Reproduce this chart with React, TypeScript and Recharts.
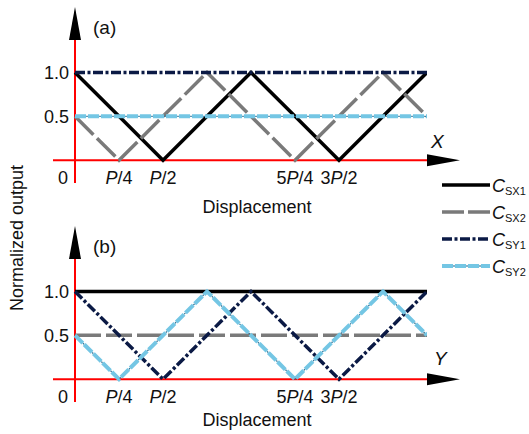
import { LineChart, Line, XAxis, YAxis, ReferenceLine, ReferenceDot } from 'recharts';

// displacement in units of the period P
const positions = [0, 0.25, 0.5, 0.75, 1, 1.25, 1.5, 1.75, 2];

// panel (a): X-direction sensors modulate, Y-direction sensors flat
const aSX1 = [1, 0.5, 0, 0.5, 1, 0.5, 0, 0.5, 1];
const aSX2 = [0.5, 0, 0.5, 1, 0.5, 0, 0.5, 1, 0.5];
const aSY1 = [1, 1, 1, 1, 1, 1, 1, 1, 1];
const aSY2 = [0.5, 0.5, 0.5, 0.5, 0.5, 0.5, 0.5, 0.5, 0.5];

// panel (b): Y-direction sensors modulate, X-direction sensors flat
const bSX1 = [1, 1, 1, 1, 1, 1, 1, 1, 1];
const bSX2 = [0.5, 0.5, 0.5, 0.5, 0.5, 0.5, 0.5, 0.5, 0.5];
const bSY1 = [1, 0.5, 0, 0.5, 1, 0.5, 0, 0.5, 1];
const bSY2 = [0.5, 0, 0.5, 1, 0.5, 0, 0.5, 1, 0.5];

const xTicks = [0, 0.25, 0.5, 1.25, 1.5];
const xTickLabels = ['0', 'P/4', 'P/2', '5P/4', '3P/2'];
const yTicks = [0.5, 1];
const yTickLabels = ['0.5', '1.0'];

const seriesNames = ['sx1', 'sx2', 'sy1', 'sy2'];
const seriesSubs = ['SX1', 'SX2', 'SY1', 'SY2'];

const FONT = '"Liberation Sans", Arial, sans-serif';
const RED = '#ff0000';

const styles: Record<string, { stroke: string; width: number; dash?: string }> = {
  sx1: { stroke: '#000000', width: 3.5 },
  sx2: { stroke: '#7a7a7a', width: 3.5, dash: '26 5' },
  sy1: { stroke: '#0b1a45', width: 3.5, dash: '10 2.5 3 2.5' },
  sy2: { stroke: '#74c6e4', width: 4, dash: '11 2' },
};
// thin darker dots sitting in the gaps of the light blue dashes
const sy2Dots = { stroke: '#2f7397', width: 1.3, dash: '1.5 11.5', offset: 1.75 };

const Y_DOMAIN: [number, number] = [-0.26, 1.37];
const X_DOMAIN: [number, number] = [-0.125, 2];

function buildRows(s1: number[], s2: number[], s3: number[], s4: number[]) {
  return positions.map((x, i) => ({ x, sx1: s1[i], sx2: s2[i], sy1: s3[i], sy2: s4[i] }));
}

function PLabel({ text }: { text: string }) {
  // italic P inside tick labels
  const parts = text.split('P');
  if (parts.length === 1) return <>{text}</>;
  return (
    <>
      {parts[0]}
      <tspan fontStyle="italic">P</tspan>
      {parts[1]}
    </>
  );
}

const XTick = (props: any) => {
  const { x, y, payload } = props;
  const i = xTicks.indexOf(payload.value);
  const label = xTickLabels[i] ?? '';
  const shift = payload.value === 0 ? -12 : 0;
  return (
    <text x={x + shift} y={y + 1} textAnchor="middle" fontSize={18} fontFamily={FONT} fill="#111">
      <PLabel text={label} />
    </text>
  );
};

const YTick = (props: any) => {
  const { x, y, payload } = props;
  const i = yTicks.indexOf(payload.value);
  return (
    <text x={x + 16} y={y + 6.5} textAnchor="end" fontSize={18} fontFamily={FONT} fill="#111">
      {yTickLabels[i]}
    </text>
  );
};

const UpArrow = (p: any) => (
  <polygon points={`${p.cx - 6},${p.cy} ${p.cx + 6},${p.cy} ${p.cx},${p.cy - 33}`} fill="#000" />
);
const RightArrow = (p: any) => (
  <polygon points={`${p.cx},${p.cy - 6} ${p.cx},${p.cy + 6} ${p.cx + 33},${p.cy}`} fill="#000" />
);

function Panel({ rows, top }: { rows: any[]; top: number }) {
  return (
    <div style={{ position: 'absolute', left: 0, top, width: 529, height: 220 }}>
      <LineChart width={529} height={220} data={rows} margin={{ top: 40, right: 102, bottom: 0, left: 0 }}>
        <XAxis
          dataKey="x"
          type="number"
          domain={X_DOMAIN}
          allowDataOverflow
          ticks={xTicks}
          interval={0}
          axisLine={false}
          tickLine={false}
          tickSize={0}
          tickMargin={0}
          height={37}
          tick={(p: any) => <XTick {...p} />}
        />
        <YAxis
          type="number"
          domain={Y_DOMAIN}
          allowDataOverflow
          ticks={yTicks}
          interval={0}
          axisLine={false}
          tickLine={false}
          tickSize={0}
          tickMargin={0}
          width={53}
          tick={(p: any) => <YTick {...p} />}
        />
        <ReferenceLine x={0} stroke={RED} strokeWidth={2} />
        <ReferenceLine y={0} stroke={RED} strokeWidth={2} />
        <ReferenceDot x={0} y={Y_DOMAIN[1]} r={0} ifOverflow="visible" shape={UpArrow} />
        <ReferenceDot x={2} y={0} r={0} ifOverflow="visible" shape={RightArrow} />
        {seriesNames.map(k => (
          <Line
            key={k}
            type="linear"
            dataKey={k}
            stroke={styles[k].stroke}
            strokeWidth={styles[k].width}
            strokeDasharray={styles[k].dash}
            dot={false}
            activeDot={false}
            isAnimationActive={false}
          />
        ))}
        <Line
          type="linear"
          dataKey="sy2"
          stroke={sy2Dots.stroke}
          strokeWidth={sy2Dots.width}
          strokeDasharray={sy2Dots.dash}
          strokeDashoffset={sy2Dots.offset}
          dot={false}
          activeDot={false}
          legendType="none"
          isAnimationActive={false}
        />
      </LineChart>
    </div>
  );
}

function Overlay() {
  const legendY = [185, 212, 239, 266];
  return (
    <svg
      width={529}
      height={434}
      style={{ position: 'absolute', left: 0, top: 0, pointerEvents: 'none' }}
      fontFamily={FONT}
      fill="#111"
    >
      <text x={93} y={34} fontSize={19}>(a)</text>
      <text x={93} y={253} fontSize={19}>(b)</text>
      <text x={431} y={148} fontSize={19} fontStyle="italic">X</text>
      <text x={434} y={365} fontSize={19} fontStyle="italic">Y</text>
      <text x={257} y={213} fontSize={18} textAnchor="middle">Displacement</text>
      <text x={257} y={426} fontSize={18} textAnchor="middle">Displacement</text>
      <text
        x={17}
        y={238}
        fontSize={18}
        textAnchor="middle"
        dominantBaseline="central"
        transform="rotate(-90 17 238)"
      >
        Normalized output
      </text>
      {seriesNames.map((k, i) => (
        <g key={k}>
          <line
            x1={442}
            x2={490}
            y1={legendY[i]}
            y2={legendY[i]}
            stroke={styles[k].stroke}
            strokeWidth={styles[k].width}
            strokeDasharray={k === 'sx2' ? '22 4' : styles[k].dash}
          />
          {k === 'sy2' && (
            <line
              x1={442}
              x2={490}
              y1={legendY[i]}
              y2={legendY[i]}
              stroke={sy2Dots.stroke}
              strokeWidth={sy2Dots.width}
              strokeDasharray={sy2Dots.dash}
              strokeDashoffset={sy2Dots.offset}
            />
          )}
          <text x={492} y={legendY[i] + 6.5} fontSize={18}>
            <tspan fontStyle="italic">C</tspan>
            <tspan fontSize={11} dy={3}>{seriesSubs[i]}</tspan>
          </text>
        </g>
      ))}
    </svg>
  );
}

export default function App() {
  const rowsA = buildRows(aSX1, aSX2, aSY1, aSY2);
  const rowsB = buildRows(bSX1, bSX2, bSY1, bSY2);
  return (
    <div style={{ position: 'absolute', left: 0, top: 0, width: 529, height: 434, background: '#fff' }}>
      <Panel rows={rowsA} top={0} />
      <Panel rows={rowsB} top={219} />
      <Overlay />
    </div>
  );
}
